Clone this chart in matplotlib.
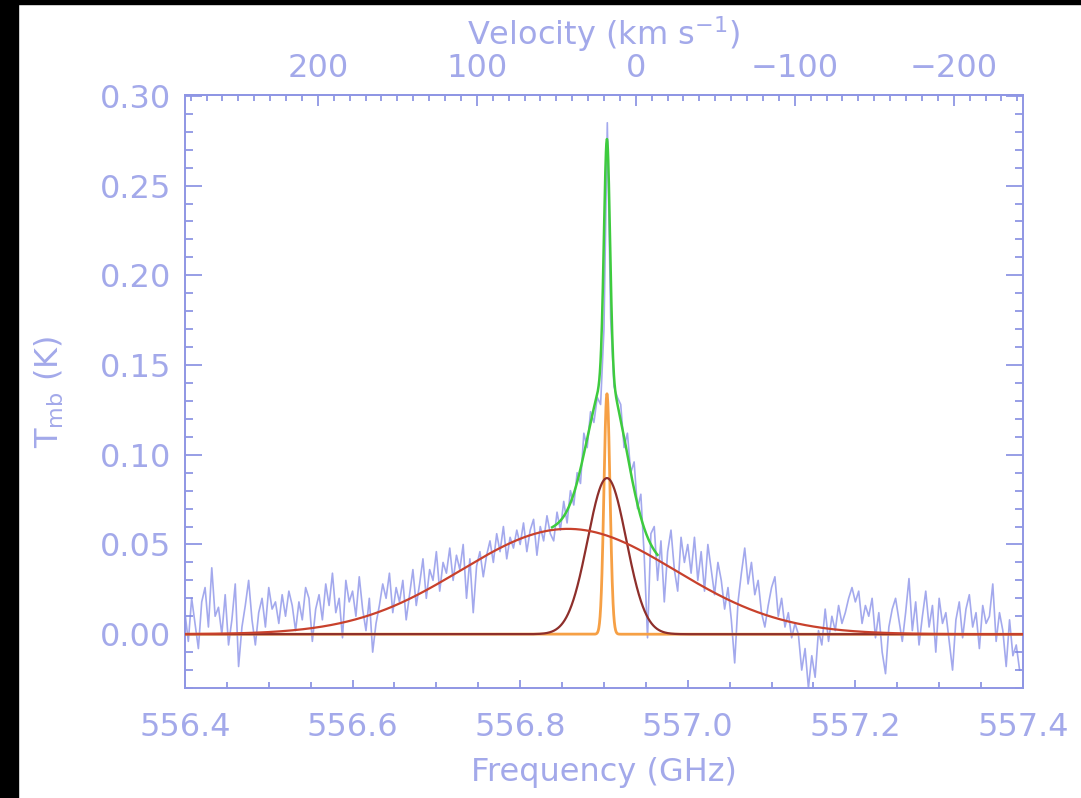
import numpy as np
import matplotlib
matplotlib.use('Agg')
import matplotlib.pyplot as plt
from matplotlib.patches import Rectangle
from matplotlib.ticker import MultipleLocator, FixedLocator

# spectrum channels (GHz), 4 MHz wide
freq_start = 556.400
chan_width = 0.004

# observed Tmb (K), one row = 10 channels
tmb = [
    0.012, -0.004, 0.020, 0.006, -0.008, 0.018, 0.026, 0.004, 0.037, 0.010,
    0.015, 0.000, 0.022, -0.006, 0.008, 0.028, -0.018, 0.004, 0.016, 0.030,
    0.008, -0.006, 0.012, 0.020, 0.004, 0.026, 0.014, 0.018, 0.006, 0.022,
    0.010, 0.024, 0.016, 0.002, 0.018, 0.008, 0.026, 0.020, -0.004, 0.014,
    0.022, 0.008, 0.028, 0.016, 0.034, 0.012, 0.020, -0.002, 0.030, 0.018,
    0.024, 0.010, 0.032, 0.014, 0.002, 0.020, -0.010, 0.006, 0.016, 0.028,
    0.020, 0.034, 0.012, 0.026, 0.018, 0.030, 0.008, 0.022, 0.036, 0.016,
    0.028, 0.042, 0.020, 0.036, 0.030, 0.046, 0.024, 0.040, 0.034, 0.048,
    0.030, 0.044, 0.036, 0.050, 0.020, 0.042, 0.012, 0.038, 0.046, 0.032,
    0.044, 0.052, 0.040, 0.056, 0.046, 0.060, 0.042, 0.054, 0.048, 0.058,
    0.050, 0.062, 0.046, 0.058, 0.064, 0.044, 0.060, 0.052, 0.066, 0.056,
    0.052, 0.068, 0.058, 0.074, 0.062, 0.080, 0.072, 0.090, 0.084, 0.112,
    0.104, 0.124, 0.118, 0.132, 0.128, 0.170, 0.285, 0.176, 0.138, 0.132,
    0.128, 0.104, 0.112, 0.090, 0.096, 0.070, 0.078, 0.044, -0.002, 0.056,
    0.060, 0.030, 0.052, 0.018, 0.046, 0.058, 0.036, 0.024, 0.054, 0.040,
    0.050, 0.034, 0.054, 0.030, 0.046, 0.024, 0.050, 0.036, 0.022, 0.040,
    0.030, 0.014, 0.026, 0.008, -0.016, 0.018, 0.034, 0.048, 0.028, 0.040,
    0.022, 0.030, 0.012, 0.004, 0.016, 0.026, 0.032, 0.010, 0.020, 0.004,
    0.012, -0.002, 0.006, 0.000, -0.020, -0.008, -0.030, -0.012, -0.024, 0.002,
    -0.006, 0.014, -0.004, 0.010, 0.002, 0.016, 0.006, 0.012, 0.020, 0.026,
    0.018, 0.024, 0.006, 0.016, 0.010, 0.020, -0.002, 0.012, -0.010, -0.022,
    0.004, 0.014, 0.020, 0.008, -0.004, 0.012, 0.031, 0.002, 0.018, -0.006,
    0.010, 0.024, 0.004, 0.016, -0.010, 0.020, 0.006, 0.012, -0.004, -0.020,
    0.008, 0.018, -0.002, 0.014, 0.022, 0.004, 0.012, -0.008, 0.016, 0.006,
    0.010, 0.028, -0.004, 0.012, 0.002, -0.018, 0.008, -0.012, -0.006, -0.020,
]

# gaussian fit components: broad, medium, narrow
comp_amp = [0.0587, 0.087, 0.134]
comp_cen = [556.857, 556.9036, 556.9036]
comp_sig = [0.128, 0.023, 0.0036]
comp_col = ['#c8412c', '#8e2f2b', '#f6a045']
# total fit only drawn over the central part
total_range = [556.838, 556.964]

# velocity axis: zero point (GHz) and km/s per GHz
v_zero_freq = 556.938
v_per_ghz = 527.1

axcol = '#8f96e4'
txtcol = '#a3a9ea'
fs = 23

fig = plt.figure(figsize=(10.81, 7.98), dpi=100, facecolor='white')
ax = fig.add_axes([0.1711, 0.1378, 0.7752, 0.7432])

freq = freq_start + chan_width * np.arange(len(tmb))
ax.plot(freq, tmb, color='#7d85e6', lw=1.2, alpha=0.7, zorder=2)

def gauss(x, a, c, s):
    return a * np.exp(-(x - c) ** 2 / (2 * s ** 2))

xf = np.linspace(556.4, 557.4, 4000)
comps = [gauss(xf, a, c, s) for a, c, s in zip(comp_amp, comp_cen, comp_sig)]

#plot components
ax.plot(xf, comps[2], color=comp_col[2], lw=2.0, zorder=3)
ax.plot(xf, comps[1], color=comp_col[1], lw=1.6, zorder=4)
ax.plot(xf, comps[0], color=comp_col[0], lw=1.6, zorder=5)

#plot total fit
total = comps[0] + comps[1] + comps[2]
m = (xf >= total_range[0]) & (xf <= total_range[1])
ax.plot(xf[m], total[m], color='#3ecb3e', lw=1.8, zorder=6)

ax.set_xlim(556.4, 557.4)
ax.set_ylim(-0.030, 0.3005)

ax.xaxis.set_major_locator(MultipleLocator(0.2))
ax.xaxis.set_minor_locator(MultipleLocator(0.05))
ax.yaxis.set_major_locator(MultipleLocator(0.05))
ax.yaxis.set_minor_locator(MultipleLocator(0.01))
ax.xaxis.set_major_formatter(matplotlib.ticker.FormatStrFormatter('%.1f'))
ax.yaxis.set_major_formatter(matplotlib.ticker.FormatStrFormatter('%.2f'))

for sp in ax.spines.values():
    sp.set_color(axcol)
    sp.set_linewidth(1.4)

ax.tick_params(axis='y', which='both', direction='in', left=True, right=True,
               colors=axcol, labelcolor=txtcol, labelsize=fs, pad=10, width=1.3)
ax.tick_params(axis='y', which='major', length=12)
ax.tick_params(axis='y', which='minor', length=6)
ax.tick_params(axis='x', which='both', direction='in', top=False, bottom=True,
               colors=axcol, labelcolor=txtcol, labelsize=fs, pad=17, width=1.3)
ax.tick_params(axis='x', which='major', length=6)
ax.tick_params(axis='x', which='minor', length=4)

ax.set_xlabel('Frequency (GHz)', fontsize=fs, color=txtcol, labelpad=10)
ax.set_ylabel(r'T$_{\rm mb}$ (K)', fontsize=fs, color=txtcol, labelpad=24)

# velocity axis on top
secax = ax.secondary_xaxis('top', functions=(lambda f: (v_zero_freq - f) * v_per_ghz,
                                             lambda v: v_zero_freq - v / v_per_ghz))
secax.xaxis.set_major_locator(FixedLocator([200, 100, 0, -100, -200]))
secax.xaxis.set_minor_locator(MultipleLocator(10))
secax.spines['top'].set_color(axcol)
secax.spines['top'].set_linewidth(1.4)
secax.tick_params(which='both', direction='in', colors=axcol, labelcolor=txtcol,
                  labelsize=fs, pad=8, width=1.3)
secax.tick_params(which='major', length=8)
secax.tick_params(which='minor', length=4)
secax.set_xlabel(r'Velocity (km s$^{-1}$)', fontsize=fs, color=txtcol, labelpad=6)

# black frame edges of the screenshot
fig.patches.append(Rectangle((0, 0), 18 / 1081, 1, transform=fig.transFigure, color='black'))
fig.patches.append(Rectangle((0, 1 - 4 / 798), 1, 4 / 798, transform=fig.transFigure, color='black'))

fig.savefig('out.png', dpi=100)
